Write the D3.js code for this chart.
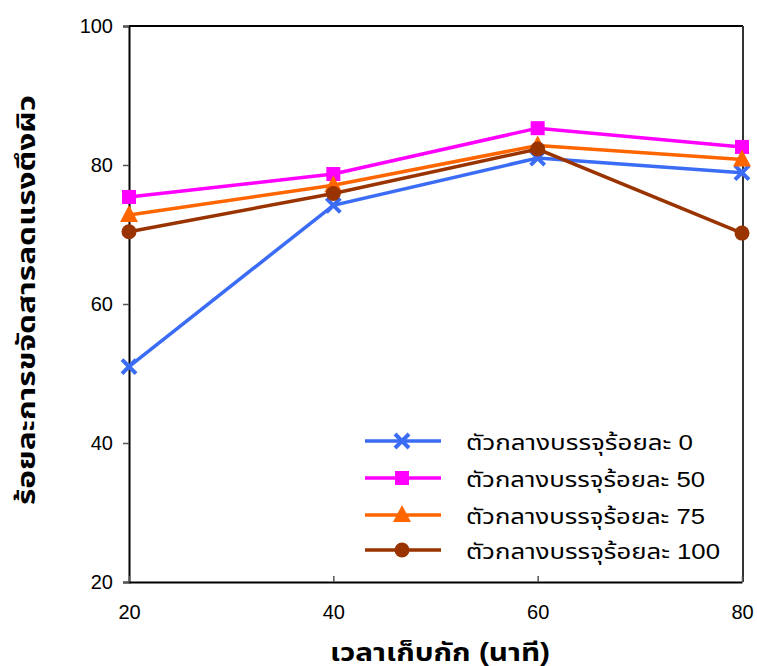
<!DOCTYPE html>
<html>
<head>
<meta charset="utf-8">
<script src="https://cdn.jsdelivr.net/npm/d3@7"></script>
<style>
  html, body { margin: 0; padding: 0; background: #fff; }
  svg { display: block; }
  text { font-family: "Liberation Sans", Arial, "Noto Sans Thai", "Noto Sans", sans-serif; }
</style>
</head>
<body>
<svg id="chart" width="757" height="666"></svg>
<script>
// Retention time (minutes)
const times = [20, 40, 60, 80];
// Percentage of surfactant removed, one series per packing ratio
const seriesNames = [
  "ตัวกลางบรรจุร้อยละ 0",
  "ตัวกลางบรรจุร้อยละ 50",
  "ตัวกลางบรรจุร้อยละ 75",
  "ตัวกลางบรรจุร้อยละ 100"
];
const pack0   = [51.0, 74.2, 81.0, 78.9];
const pack50  = [75.4, 78.7, 85.3, 82.6];
const pack75  = [72.8, 77.1, 82.8, 80.8];
const pack100 = [70.4, 75.9, 82.3, 70.2];
const xTicks = [20, 40, 60, 80];
const yTicks = [20, 40, 60, 80, 100];
const xTitle = "เวลาเก็บกัก (นาที)";
const yTitle = "ร้อยละการขจัดสารลดแรงตึงผิว";

const colors = ["#3a6cf5", "#ff00ff", "#ff6600", "#993300"];
const symbols = ["cross", "square", "triangle", "circle"];
const allValues = [pack0, pack50, pack75, pack100];

const svg = d3.select("#chart");
const plotL = 129, plotR = 743, plotT = 26, plotB = 582;

const x = d3.scaleLinear().domain([20, 80]).range([plotL, plotR - 1]);
const y = d3.scaleLinear().domain([20, 100]).range([plotB, plotT]);

// frame: top and right edges
svg.append("line").attr("x1", plotL).attr("x2", plotR).attr("y1", plotT).attr("y2", plotT)
  .attr("stroke", "#000").attr("stroke-width", 2);
svg.append("line").attr("x1", plotR).attr("x2", plotR).attr("y1", plotT).attr("y2", plotB)
  .attr("stroke", "#333").attr("stroke-width", 2);

// y axis
const yAxis = svg.append("g").attr("transform", `translate(${plotL},0)`)
  .call(d3.axisLeft(y).tickValues(yTicks).tickSize(6).tickPadding(10).tickFormat(d3.format("d")));
yAxis.select(".domain").attr("stroke", "#000").attr("stroke-width", 2);
yAxis.selectAll(".tick line").attr("stroke", "#555").attr("stroke-width", 1.5);
yAxis.selectAll("text").attr("font-size", 20).attr("fill", "#000");

// x axis, ticks pointing into the plot
const xAxis = svg.append("g").attr("transform", `translate(0,${plotB})`)
  .call(d3.axisBottom(x).tickValues(xTicks).tickSizeInner(-6).tickSizeOuter(0).tickPadding(23).tickFormat(d3.format("d")));
xAxis.select(".domain").attr("stroke", "#000").attr("stroke-width", 2);
xAxis.selectAll(".tick line").attr("stroke", "#555").attr("stroke-width", 1.5);
xAxis.selectAll("text").attr("font-size", 20).attr("fill", "#000");

// axis titles
svg.append("text").attr("x", 440).attr("y", 661)
  .attr("text-anchor", "middle").attr("font-size", 25).attr("font-weight", "bold")
  .attr("textLength", 220).attr("lengthAdjust", "spacingAndGlyphs")
  .text(xTitle);
svg.append("text").attr("transform", "translate(35,300) rotate(-90)")
  .attr("text-anchor", "middle").attr("font-size", 25).attr("font-weight", "bold")
  .attr("textLength", 410).attr("lengthAdjust", "spacingAndGlyphs")
  .text(yTitle);

function drawMarker(g, kind, color) {
  if (kind === "cross") {
    g.append("path").attr("d", "M-7,-7L7,7M-7,7L7,-7")
      .attr("stroke", color).attr("stroke-width", 4).attr("fill", "none");
  } else if (kind === "square") {
    g.append("rect").attr("x", -7).attr("y", -7).attr("width", 14).attr("height", 14).attr("fill", color);
  } else if (kind === "triangle") {
    g.append("path").attr("d", "M0,-10L9,7L-9,7Z").attr("fill", color);
  } else {
    g.append("circle").attr("r", 7.5).attr("fill", color);
  }
}

const line = d3.line().x((d, i) => x(times[i])).y(d => y(d));

allValues.forEach((vals, s) => {
  svg.append("path").datum(vals).attr("d", line)
    .attr("fill", "none").attr("stroke", colors[s]).attr("stroke-width", 3.5);
  vals.forEach((v, i) => {
    const g = svg.append("g").attr("transform", `translate(${x(times[i])},${y(v)})`);
    drawMarker(g, symbols[s], colors[s]);
  });
});

// legend
const legendY = [441, 478, 515, 550];
const legendW = [227, 239, 239, 254];
seriesNames.forEach((name, s) => {
  const g = svg.append("g").attr("transform", `translate(365,${legendY[s]})`);
  g.append("line").attr("x1", 0).attr("x2", 76).attr("y1", 0).attr("y2", 0)
    .attr("stroke", colors[s]).attr("stroke-width", 3.5);
  const m = g.append("g").attr("transform", "translate(37,0)");
  drawMarker(m, symbols[s], colors[s]);
  g.append("text").attr("x", 101).attr("y", 9).attr("font-size", 22).attr("fill", "#000")
    .attr("textLength", legendW[s]).attr("lengthAdjust", "spacingAndGlyphs")
    .text(name);
});
</script>
</body>
</html>
